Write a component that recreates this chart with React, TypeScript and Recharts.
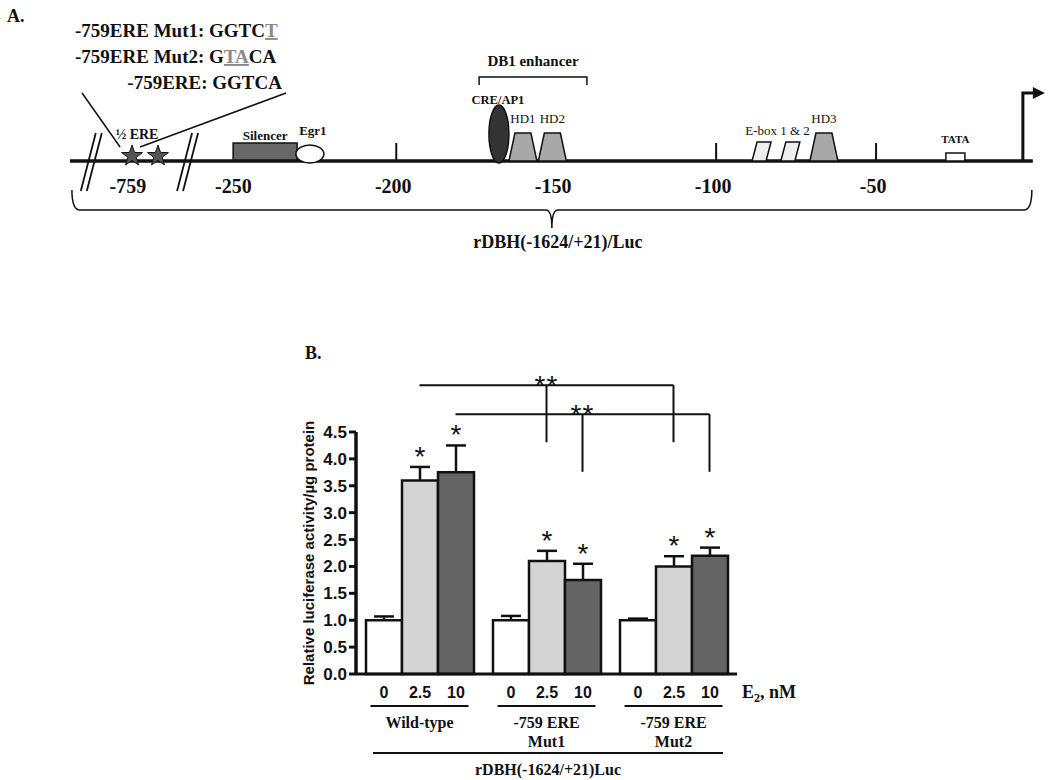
import React from 'react';
import {
  ComposedChart,
  BarChart,
  Bar,
  XAxis,
  YAxis,
  ReferenceLine,
  ReferenceDot,
  ReferenceArea,
  LabelList,
} from 'recharts';

// ---------------------------------------------------------------------------
// Panel A: rDBH promoter map (positions in bp; left of the break is the -759 inset)
// ---------------------------------------------------------------------------
const MAP_DOMAIN = [-302, 0];
const MAP_LINE = [-302, -1];
const MAP_TICKS = [-250, -200, -150, -100, -50];
const BREAK_MARKS = [-295.5, -265.4];
const ERE_STARS = [-282.6, -274.5];
const ERE_TICK = { pos: -283.9, label: '-759' };
const SILENCER = [-251, -231];
const EGR1 = -227;
const DB1_ENHANCER = [-174.1, -140.4];
const CRE_AP1 = -167.9;
const HD_SITES = [
  { name: 'HD1', pos: -160.4 },
  { name: 'HD2', pos: -151.2 },
  { name: 'HD3', pos: -66.3 },
];
const EBOXES = [-85.8, -76.8];
const TATA = -25.2;
const TSS = -4.1;
const CONSTRUCT_SPAN = [-301.4, -1.3];

const SEQUENCES = [
  { name: '-759ERE Mut1: ', plain: 'GGTC', mut: 'T', tail: '' },
  { name: '-759ERE Mut2: ', plain: 'G', mut: 'TA', tail: 'CA' },
];
const WT_SEQUENCE = '-759ERE: GGTCA';

// ---------------------------------------------------------------------------
// Panel B: luciferase activity
// ---------------------------------------------------------------------------
const GROUPS = ['Wild-type', '-759 ERE\nMut1', '-759 ERE\nMut2'];
const DOSES = ['0', '2.5', '10'];
const MEAN_0 = [1.0, 1.0, 1.0];
const MEAN_25 = [3.6, 2.1, 2.0];
const MEAN_10 = [3.75, 1.75, 2.2];
const SEM_0 = [0.07, 0.08, 0.03];
const SEM_25 = [0.25, 0.19, 0.19];
const SEM_10 = [0.5, 0.3, 0.15];
const SIG_0 = [false, false, false];
const SIG_25 = [true, true, true];
const SIG_10 = [true, true, true];
const Y_TICKS = [0, 0.5, 1, 1.5, 2, 2.5, 3, 3.5, 4, 4.5];
// wild-type vs mutants, for 2.5 nM and 10 nM
const BRACKETS = [
  { dose: 1, level: 5.37, drop: 4.31, label: '**' },
  { dose: 2, level: 4.83, drop: 3.76, label: '**' },
];

const rows = GROUPS.map((group, i) => ({
  group,
  slot: i + 0.5,
  d0: MEAN_0[i],
  e0: SEM_0[i],
  d25: MEAN_25[i],
  e25: SEM_25[i],
  d10: MEAN_10[i],
  e10: SEM_10[i],
}));

const SERIF = '"Liberation Serif", "Times New Roman", serif';
const SANS = '"Liberation Sans", Arial, sans-serif';
const INK = '#111';

const BAR_SIZE = 36;
const PLOT_LEFT = 356;
const PLOT_RIGHT = 737;
const BAND = (PLOT_RIGHT - PLOT_LEFT) / GROUPS.length;
// position of a bar centre on the hidden numeric axis (one unit per group)
const barPos = (group: number, dose: number) => group + 0.5 + ((dose - 1) * BAR_SIZE) / BAND;

function starPoints(cx: number, cy: number, R: number, r: number) {
  const pts: string[] = [];
  for (let i = 0; i < 10; i++) {
    const a = -Math.PI / 2 + (i * Math.PI) / 5;
    const rad = i % 2 === 0 ? R : r;
    pts.push(`${cx + rad * Math.cos(a)},${cy + rad * Math.sin(a)}`);
  }
  return pts.join(' ');
}

function PromoterMap() {
  return (
    <ComposedChart
      width={1050}
      height={322}
      data={[{ x: MAP_DOMAIN[0], y: 0 }, { x: MAP_DOMAIN[1], y: 0 }]}
      margin={{ top: 0, right: 14, bottom: 0, left: 70 }}
    >
      <XAxis type="number" dataKey="x" domain={MAP_DOMAIN} allowDataOverflow hide />
      <YAxis type="number" domain={[-1, 1]} allowDataOverflow hide />

      <ReferenceLine
        segment={[{ x: MAP_LINE[0], y: 0 }, { x: MAP_LINE[1], y: 0 }]}
        stroke={INK}
        strokeWidth={3.5}
        ifOverflow="visible"
      />

      {/* tick marks as areas so the features drawn after them sit on top */}
      {MAP_TICKS.map((t) => (
        <ReferenceArea
          key={t}
          x1={t}
          x2={t}
          y1={0}
          y2={1}
          shape={(p: any) => {
            const base = p.y + p.height;
            const cx = p.x + p.width / 2;
            return (
              <g>
                <line x1={cx} x2={cx} y1={base} y2={base - 18} stroke={INK} strokeWidth={2} />
                <text x={cx - 3} y={base + 32} textAnchor="middle" fontFamily={SERIF} fontWeight={700} fontSize={20} fill={INK}>
                  {t}
                </text>
              </g>
            );
          }}
        />
      ))}

      <ReferenceDot
        x={ERE_TICK.pos}
        y={0}
        shape={(p: any) => (
          <text x={p.cx} y={p.cy + 32} textAnchor="middle" fontFamily={SERIF} fontWeight={700} fontSize={20} fill={INK}>
            {ERE_TICK.label}
          </text>
        )}
      />

      {BREAK_MARKS.map((b) => (
        <ReferenceDot
          key={b}
          x={b}
          y={0}
          shape={(p: any) => (
            <g stroke={INK} strokeWidth={1.8}>
              <line x1={p.cx - 10} y1={p.cy + 30} x2={p.cx + 5} y2={p.cy - 28} />
              <line x1={p.cx - 4} y1={p.cy + 30} x2={p.cx + 11} y2={p.cy - 28} />
            </g>
          )}
        />
      ))}

      {ERE_STARS.map((s, i) => (
        <ReferenceDot
          key={s}
          x={s}
          y={0}
          shape={(p: any) => (
            <g>
              {i === 0 && (
                <g>
                  <line x1={p.cx - 50} y1={p.cy - 68} x2={p.cx - 12} y2={p.cy - 14} stroke={INK} strokeWidth={1.5} />
                  <line x1={p.cx + 8} y1={p.cy - 14} x2={p.cx + 154} y2={p.cy - 68} stroke={INK} strokeWidth={1.5} />
                  <text x={p.cx + 5} y={p.cy - 22} textAnchor="middle" fontFamily={SERIF} fontWeight={700} fontSize={14} fill={INK}>
                    ½ ERE
                  </text>
                </g>
              )}
              <polygon points={starPoints(p.cx, p.cy - 5, 11, 4.4)} fill="#555" stroke={INK} strokeWidth={1} />
            </g>
          )}
        />
      ))}

      <ReferenceArea
        x1={SILENCER[0]}
        x2={SILENCER[1]}
        y1={0}
        y2={1}
        shape={(p: any) => {
          const base = p.y + p.height;
          return (
            <g>
              <rect x={p.x} y={base - 18} width={p.width} height={18} fill="#686868" stroke={INK} strokeWidth={1.5} />
              <text x={p.x + p.width / 2} y={base - 21} textAnchor="middle" fontFamily={SERIF} fontWeight={700} fontSize={13} fill={INK}>
                Silencer
              </text>
            </g>
          );
        }}
      />

      <ReferenceDot
        x={EGR1}
        y={0}
        shape={(p: any) => (
          <g>
            <ellipse cx={p.cx} cy={p.cy - 7} rx={14} ry={9} fill="#fff" stroke={INK} strokeWidth={1.5} />
            <text x={p.cx + 3} y={p.cy - 26} textAnchor="middle" fontFamily={SERIF} fontWeight={700} fontSize={13} fill={INK}>
              Egr1
            </text>
          </g>
        )}
      />

      <ReferenceArea
        x1={DB1_ENHANCER[0]}
        x2={DB1_ENHANCER[1]}
        y1={0}
        y2={1}
        shape={(p: any) => {
          const base = p.y + p.height;
          return (
            <g>
              <path
                d={`M${p.x},${base - 76} L${p.x},${base - 84} L${p.x + p.width},${base - 84} L${p.x + p.width},${base - 76}`}
                fill="none"
                stroke={INK}
                strokeWidth={1.5}
              />
              <text x={p.x + p.width / 2} y={base - 95} textAnchor="middle" fontFamily={SERIF} fontWeight={700} fontSize={15} fill={INK}>
                DB1 enhancer
              </text>
            </g>
          );
        }}
      />

      <ReferenceDot
        x={CRE_AP1}
        y={0}
        shape={(p: any) => (
          <g>
            <ellipse cx={p.cx} cy={p.cy - 27} rx={10} ry={29} fill="#333" stroke={INK} strokeWidth={1.5} />
            <text x={p.cx - 1} y={p.cy - 57} textAnchor="middle" fontFamily={SERIF} fontWeight={700} fontSize={12.5} fill={INK}>
              CRE/AP1
            </text>
          </g>
        )}
      />

      {HD_SITES.map((h) => (
        <ReferenceDot
          key={h.name}
          x={h.pos}
          y={0}
          shape={(p: any) => (
            <g>
              <polygon
                points={`${p.cx - 14},${p.cy} ${p.cx - 8},${p.cy - 28} ${p.cx + 8},${p.cy - 28} ${p.cx + 14},${p.cy}`}
                fill="#a8a8a8"
                stroke={INK}
                strokeWidth={1.5}
              />
              <text x={p.cx} y={p.cy - 38} textAnchor="middle" fontFamily={SERIF} fontSize={13} fill={INK}>
                {h.name}
              </text>
            </g>
          )}
        />
      ))}

      {EBOXES.map((e, i) => (
        <ReferenceDot
          key={e}
          x={e}
          y={0}
          shape={(p: any) => (
            <g>
              <polygon
                points={`${p.cx - 9.5},${p.cy} ${p.cx - 4.5},${p.cy - 19} ${p.cx + 9.5},${p.cy - 19} ${p.cx + 4.5},${p.cy}`}
                fill="#eee"
                stroke={INK}
                strokeWidth={1.5}
              />
              {i === 0 && (
                <text x={p.cx + 16} y={p.cy - 26} textAnchor="middle" fontFamily={SERIF} fontSize={13} fill={INK}>
                  E-box 1 &amp; 2
                </text>
              )}
            </g>
          )}
        />
      ))}

      <ReferenceDot
        x={TATA}
        y={0}
        shape={(p: any) => (
          <g>
            <rect x={p.cx - 9.5} y={p.cy - 8} width={19} height={8} fill="#fff" stroke={INK} strokeWidth={1.5} />
            <text x={p.cx} y={p.cy - 18} textAnchor="middle" fontFamily={SERIF} fontWeight={700} fontSize={11} fill={INK}>
              TATA
            </text>
          </g>
        )}
      />

      <ReferenceDot
        x={TSS}
        y={0}
        shape={(p: any) => (
          <g>
            <path d={`M${p.cx},${p.cy} L${p.cx},${p.cy - 68} L${p.cx + 11},${p.cy - 68}`} fill="none" stroke={INK} strokeWidth={3} />
            <polygon points={`${p.cx + 10},${p.cy - 74} ${p.cx + 22},${p.cy - 68} ${p.cx + 10},${p.cy - 62}`} fill={INK} />
          </g>
        )}
      />

      <ReferenceArea
        x1={CONSTRUCT_SPAN[0]}
        x2={CONSTRUCT_SPAN[1]}
        y1={0}
        y2={1}
        shape={(p: any) => {
          const base = p.y + p.height;
          const l = p.x;
          const r = p.x + p.width;
          const m = (l + r) / 2;
          return (
            <g>
              <path
                d={`M${l},${base + 29} Q${l},${base + 49} ${l + 8},${base + 49} L${m - 6},${base + 49} Q${m},${base + 49} ${m},${base + 67} Q${m},${base + 49} ${m + 6},${base + 49} L${r - 8},${base + 49} Q${r},${base + 49} ${r},${base + 29}`}
                fill="none"
                stroke={INK}
                strokeWidth={1.5}
              />
              <text x={m + 6} y={base + 87} textAnchor="middle" fontFamily={SERIF} fontWeight={700} fontSize={18} fill={INK}>
                rDBH(-1624/+21)/Luc
              </text>
            </g>
          );
        }}
      />
    </ComposedChart>
  );
}

const FILLS = ['#ffffff', '#d4d4d4', '#646464'];
const SIGS = [SIG_0, SIG_25, SIG_10];
const KEYS = [
  ['d0', 'e0'],
  ['d25', 'e25'],
  ['d10', 'e10'],
];

function GroupTick(props: any) {
  const { x, y, payload } = props;
  const lines = String(payload.value).split('\n');
  return (
    <g>
      <line x1={x - 49} x2={x + 49} y1={y + 32} y2={y + 32} stroke={INK} strokeWidth={2} />
      {lines.map((t, i) => (
        <text key={i} x={x} y={y + 54 + i * 19} textAnchor="middle" fontFamily={SERIF} fontWeight={700} fontSize={16} fill={INK}>
          {t}
        </text>
      ))}
    </g>
  );
}

function doseLabel(dose: string) {
  return (p: any) => {
    const vb = p.viewBox ?? p;
    return (
      <text x={vb.x + vb.width / 2} y={vb.y + vb.height + 24} textAnchor="middle" fontFamily={SANS} fontWeight={700} fontSize={16} fill={INK}>
        {dose}
      </text>
    );
  };
}

function whisker(sig: boolean[]) {
  return (p: any) => {
    const cx = p.x + p.width / 2;
    return (
      <g>
        <line x1={cx} x2={cx} y1={p.y + p.height} y2={p.y} stroke={INK} strokeWidth={2.5} />
        <line x1={cx - 10} x2={cx + 10} y1={p.y} y2={p.y} stroke={INK} strokeWidth={2.5} />
        {sig[p.index] && (
          <text x={cx} y={p.y - 1} textAnchor="middle" fontFamily={SANS} fontSize={28} fill={INK}>
            *
          </text>
        )}
      </g>
    );
  };
}

function LuciferaseChart() {
  return (
    <BarChart
      width={1050}
      height={780}
      data={rows}
      margin={{ top: 432, right: 1050 - PLOT_RIGHT, bottom: 16, left: PLOT_LEFT - 60 }}
      barGap={0}
      barSize={BAR_SIZE}
    >
      <XAxis
        dataKey="group"
        height={90}
        interval={0}
        tick={<GroupTick />}
        tickLine={false}
        tickSize={0}
        tickMargin={0}
        axisLine={{ stroke: INK, strokeWidth: 3 }}
      />
      <XAxis
        xAxisId="pos"
        dataKey="slot"
        type="number"
        domain={[0, GROUPS.length]}
        ticks={[0, GROUPS.length]}
        allowDataOverflow
        hide
      />
      <YAxis
        domain={[0, 4.5]}
        ticks={Y_TICKS}
        interval={0}
        width={60}
        tickSize={7}
        tickMargin={2}
        tickFormatter={(v: number) => v.toFixed(1)}
        tick={{ fontFamily: SANS, fontWeight: 700, fontSize: 17, fill: INK }}
        tickLine={{ stroke: INK, strokeWidth: 3 }}
        axisLine={{ stroke: INK, strokeWidth: 3.5 }}
        label={(p: any) => {
          const vb = p.viewBox ?? { x: PLOT_LEFT - 60, y: 432, width: 60, height: 242 };
          const cx = vb.x + 12;
          const cy = vb.y + vb.height / 2;
          return (
            <text
              x={cx}
              y={cy}
              transform={`rotate(-90, ${cx}, ${cy})`}
              textAnchor="middle"
              dominantBaseline="central"
              fontFamily={SANS}
              fontWeight={700}
              fontSize={15}
              fill={INK}
            >
              Relative luciferase activity/µg protein
            </text>
          );
        }}
      />

      {KEYS.map(([mean, err], k) => [
        <Bar
          key={mean}
          dataKey={mean}
          stackId={`s${k}`}
          fill={FILLS[k]}
          stroke={INK}
          strokeWidth={2.5}
          isAnimationActive={false}
        >
          <LabelList content={doseLabel(DOSES[k])} />
        </Bar>,
        <Bar key={err} dataKey={err} stackId={`s${k}`} shape={whisker(SIGS[k])} isAnimationActive={false} />,
      ])}

      {BRACKETS.map((b) => [
        <ReferenceLine
          key={`h${b.dose}`}
          xAxisId="pos"
          segment={[{ x: barPos(0, b.dose), y: b.level }, { x: barPos(GROUPS.length - 1, b.dose), y: b.level }]}
          stroke={INK}
          strokeWidth={2}
          ifOverflow="visible"
        />,
        ...[1, 2].map((g) => (
          <ReferenceLine
            key={`v${b.dose}${g}`}
            xAxisId="pos"
            segment={[{ x: barPos(g, b.dose), y: b.level }, { x: barPos(g, b.dose), y: b.drop }]}
            stroke={INK}
            strokeWidth={2}
            ifOverflow="visible"
          />
        )),
        <ReferenceDot
          key={`t${b.dose}`}
          xAxisId="pos"
          x={barPos(1, b.dose)}
          y={b.level}
          ifOverflow="visible"
          shape={(p: any) => (
            <text x={p.cx} y={p.cy + 10} textAnchor="middle" fontFamily={SANS} fontSize={28} letterSpacing={1} fill={INK}>
              {b.label}
            </text>
          )}
        />,
      ])}
    </BarChart>
  );
}

export default function App() {
  const txt = { fontFamily: SERIF, fontWeight: 700, fill: INK } as const;
  return (
    <div style={{ position: 'absolute', left: 0, top: 0, width: 1050, height: 780, background: '#fff' }}>
      <div style={{ position: 'absolute', left: 0, top: 0 }}>
        <PromoterMap />
      </div>
      <div style={{ position: 'absolute', left: 0, top: 0 }}>
        <LuciferaseChart />
      </div>
      <svg width={1050} height={780} style={{ position: 'absolute', left: 0, top: 0, pointerEvents: 'none' }}>
        <text x={7} y={22} fontSize={18} {...txt}>A.</text>
        {SEQUENCES.map((s, i) => (
          <text key={s.name} x={75} y={37 + i * 26} fontSize={19} {...txt}>
            {s.name}
            {s.plain}
            <tspan fill="#8a8a8a" textDecoration="underline">{s.mut}</tspan>
            {s.tail}
          </text>
        ))}
        <text x={282} y={89} fontSize={19} textAnchor="end" {...txt}>{WT_SEQUENCE}</text>

        <text x={305} y={359} fontSize={18} {...txt}>B.</text>
        <text x={742} y={698} fontSize={18} {...txt}>
          E<tspan fontSize={12} dy={4}>2</tspan>
          <tspan dy={-4}>, nM</tspan>
        </text>
        <line x1={373} x2={723} y1={753} y2={753} stroke={INK} strokeWidth={2} />
        <text x={548} y={775} fontSize={16} textAnchor="middle" {...txt}>rDBH(-1624/+21)Luc</text>
      </svg>
    </div>
  );
}
